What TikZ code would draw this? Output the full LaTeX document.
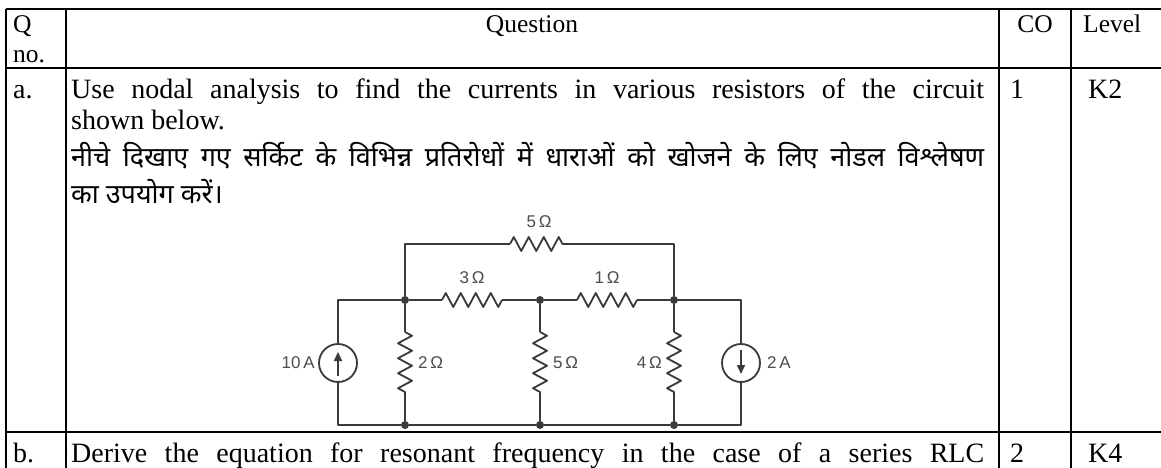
\documentclass[tikz,border=0pt]{standalone}
\usepackage{fontspec}
\setmainfont{Liberation Serif}
\newfontfamily\hindifont[Script=Devanagari]{Noto Sans}
\newfontfamily\cktfont{Liberation Sans}
\usepackage{xcolor}
\usepackage{tikz}
\usetikzlibrary{arrows.meta, positioning, decorations.pathmorphing}
\definecolor{wire}{HTML}{3A3A3A}
\definecolor{lbl}{HTML}{4D4D4D}

\begin{document}
\begin{tikzpicture}
  [
    x=1pt, y=-1pt,
    Rule/.style={draw=black, line width=1.6pt},
    Head/.style={font=\fontsize{25.5}{30}\selectfont, inner sep=0pt, anchor=base west},
    Txt/.style={font=\fontsize{28}{30}\selectfont, inner sep=0pt, anchor=base west},
    Hin/.style={font=\hindifont\fontsize{27}{30}\selectfont, inner sep=0pt, anchor=base west},
    Lbl/.style={font=\cktfont\fontsize{17}{18}\selectfont, text=lbl, inner sep=0pt},
    Wire/.style={draw=wire, line width=1.8pt, line join=round},
    Res/.style={Wire, decorate, decoration={zigzag, segment length=15pt, amplitude=7pt}},
    Dot/.style={circle, fill=wire, inner sep=0pt, minimum size=8pt},
    Src/.style={circle, draw=wire, line width=1.8pt, minimum size=38pt, inner sep=0pt},
    Arr/.style={draw=wire, line width=1.6pt, -{Triangle[length=9pt, width=8pt]}}
  ]
  \useasboundingbox (0,0) rectangle (1161,468);
  % Table
  \draw[Rule] (6,9) -- (1175,9);
  \draw[Rule] (6,68) -- (1175,68);
  \draw[Rule] (6,432) -- (1175,432);
  \draw[Rule] (6,9) -- (6,475);
  \draw[Rule] (66,9) -- (66,475);
  \draw[Rule] (999,9) -- (999,475);
  \draw[Rule] (1071,9) -- (1071,475);
  % Header
  \node[Head] (qno1) at (13,33) {Q};
  \node[Head] (qno2) at (13,63) {no.};
  \node[Head, anchor=base] (qhead) at (532,33) {Question};
  \node[Head, anchor=base] (cohead) at (1035,33) {CO};
  \node[Head] (lvhead) at (1083,33) {Level};
  % Row a
  \node[Txt] (qa) at (13,99) {a.};
  \node[Txt] (qa1) at (71,99) {\makebox[913pt][s]{Use nodal analysis to find the currents in various resistors of the circuit}};
  \node[Txt] (qa2) at (71,129) {shown below.};
  \node[Hin] (qa3) at (71,166) {\makebox[913pt][s]{नीचे दिखाए गए सर्किट के विभिन्न प्रतिरोधों में धाराओं को खोजने के लिए नोडल विश्लेषण}};
  \node[Hin] (qa4) at (71,203) {का उपयोग करें।};
  \node[Txt] (coa) at (1010,99) {1};
  \node[Txt] (lva) at (1088,99) {K2};
  % Row b
  \node[Txt] (qb) at (13,462) {b.};
  \node[Txt] (qb1) at (71,462) {\makebox[913pt][s]{Derive the equation for resonant frequency in the case of a series RLC}};
  \node[Txt] (cob) at (1010,462) {2};
  \node[Txt] (lvb) at (1088,462) {K4};
  % Circuit nodes
  \node[Dot] (nA) at (405,300) {};
  \node[Dot] (nB) at (540,300) {};
  \node[Dot] (nC) at (674,300) {};
  \node[Dot] (gA) at (405,425) {};
  \node[Dot] (gB) at (540,425) {};
  \node[Dot] (gC) at (674,425) {};
  \node[Src] (s10) at (338,363) {};
  \node[Src] (s2) at (741,363) {};
  \coordinate (tl) at (338,300);
  \coordinate (bl) at (338,425);
  \coordinate (tr) at (741,300);
  \coordinate (br) at (741,425);
  \coordinate (ul) at (405,244);
  \coordinate (ur) at (674,244);
  \coordinate (r5a) at (510,244);
  \coordinate (r5b) at (569,244);
  \coordinate (r3a) at (442,300);
  \coordinate (r3b) at (502,300);
  \coordinate (r1a) at (577,300);
  \coordinate (r1b) at (637,300);
  \coordinate (r2a) at (405,332);
  \coordinate (r2b) at (405,393);
  \coordinate (r6a) at (540,332);
  \coordinate (r6b) at (540,393);
  \coordinate (r4a) at (674,332);
  \coordinate (r4b) at (674,393);
  % Labels
  \node[Lbl] (l5) at (539,222) {5\,Ω};
  \node[Lbl] (l3) at (472,278) {3\,Ω};
  \node[Lbl] (l1) at (607,278) {1\,Ω};
  \node[Lbl, anchor=west] (l2) at (418,363) {2\,Ω};
  \node[Lbl, anchor=west] (l6) at (553,363) {5\,Ω};
  \node[Lbl, anchor=east] (l4) at (662,363) {4\,Ω};
  \node[Lbl, anchor=east] (l10a) at (315,363) {10\,A};
  \node[Lbl, anchor=west] (l2a) at (767,363) {2\,A};
  % Lines
  \path[Wire] (s10) -- (tl) -- (nA);
  \path[Wire] (s10) -- (bl) -- (gA) -- (gB) -- (gC) -- (br) -- (s2);
  \path[Wire] (s2) -- (tr) -- (nC);
  \path[Wire] (nA) -- (ul) -- (r5a);
  \path[Res] (r5a) -- (r5b);
  \path[Wire] (r5b) -- (ur) -- (nC);
  \path[Wire] (nA) -- (r3a);
  \path[Res] (r3a) -- (r3b);
  \path[Wire] (r3b) -- (nB) -- (r1a);
  \path[Res] (r1a) -- (r1b);
  \path[Wire] (r1b) -- (nC);
  \path[Wire] (nA) -- (r2a);
  \path[Res] (r2a) -- (r2b);
  \path[Wire] (r2b) -- (gA);
  \path[Wire] (nB) -- (r6a);
  \path[Res] (r6a) -- (r6b);
  \path[Wire] (r6b) -- (gB);
  \path[Wire] (nC) -- (r4a);
  \path[Res] (r4a) -- (r4b);
  \path[Wire] (r4b) -- (gC);
  \path[Arr] ([yshift=-13pt]s10.center) -- ([yshift=11pt]s10.center);
  \path[Arr] ([yshift=13pt]s2.center) -- ([yshift=-11pt]s2.center);
\end{tikzpicture}
\end{document}
